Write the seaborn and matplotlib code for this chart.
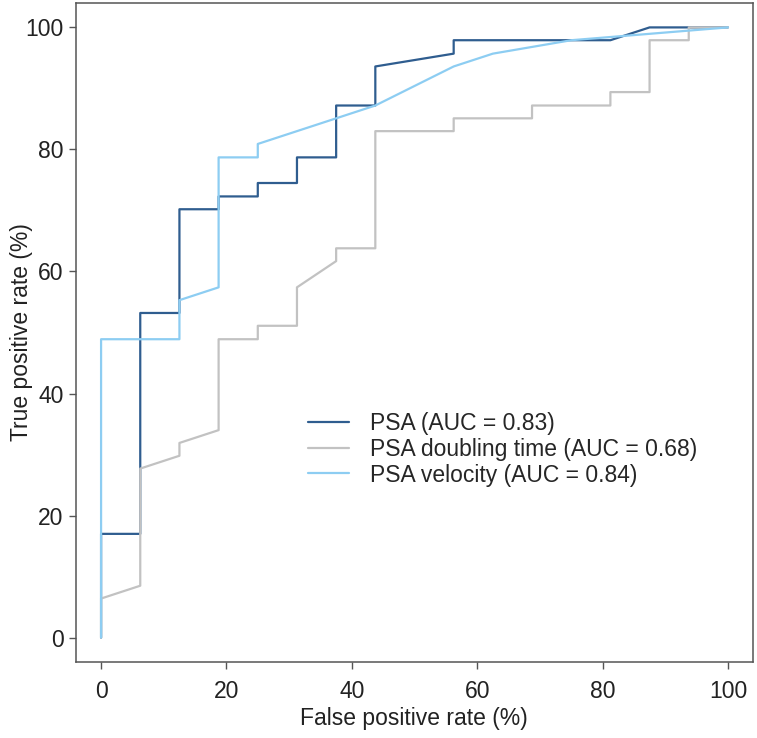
import matplotlib
matplotlib.use("Agg")
import matplotlib.pyplot as plt
import seaborn as sns
import pandas as pd

# ROC curves (percent)
psa_fpr = [0, 0, 6.25, 6.25, 12.5, 12.5, 18.75, 18.75, 25, 25, 31.25, 31.25,
           37.5, 37.5, 43.75, 43.75, 56.25, 56.25, 81.25, 87.5, 93.75, 100]
psa_tpr = [0, 17.0, 17.0, 53.2, 53.2, 70.2, 70.2, 72.3, 72.3, 74.5, 74.5, 78.7,
           78.7, 87.2, 87.2, 93.6, 95.7, 97.9, 97.9, 100, 100, 100]

dt_fpr = [0, 0, 6.25, 6.25, 12.5, 12.5, 18.75, 18.75, 25, 25, 31.25, 31.25,
          37.5, 37.5, 43.75, 43.75, 56.25, 56.25, 68.75, 68.75, 81.25, 81.25,
          87.5, 87.5, 93.75, 93.75, 100]
dt_tpr = [0, 6.4, 8.5, 27.7, 29.8, 31.9, 34.0, 48.9, 48.9, 51.1, 51.1, 57.4,
          61.7, 63.8, 63.8, 83.0, 83.0, 85.1, 85.1, 87.2, 87.2, 89.4,
          89.4, 97.9, 97.9, 100, 100]

vel_fpr = [0, 0, 12.5, 12.5, 18.75, 18.75, 25, 25, 37.5, 43.75, 56.25, 62.5, 75, 100]
vel_tpr = [0, 48.9, 48.9, 55.3, 57.4, 78.7, 78.7, 80.9, 85.1, 87.2, 93.6, 95.7, 97.9, 100]

labels = ["PSA (AUC = 0.83)", "PSA doubling time (AUC = 0.68)", "PSA velocity (AUC = 0.84)"]
colors = ["#2F5D8F", "#C2C2C2", "#8DCDF2"]

frames = []
for lab, xs, ys in zip(labels, [psa_fpr, dt_fpr, vel_fpr], [psa_tpr, dt_tpr, vel_tpr]):
    frames.append(pd.DataFrame({"fpr": xs, "tpr": ys, "marker": lab}))
df = pd.concat(frames, ignore_index=True)

sns.set_style("ticks")
plt.rcParams["font.family"] = ["Liberation Sans", "DejaVu Sans"]

fig = plt.figure(figsize=(7.57, 7.38), dpi=100)
ax = fig.add_axes([76 / 757, 1 - 662 / 738, 677 / 757, 659 / 738])

sns.lineplot(data=df, x="fpr", y="tpr", hue="marker", palette=dict(zip(labels, colors)),
             sort=False, estimator=None, linewidth=1.6, ax=ax, legend=False)

ax.set_xlim(-4, 104)
ax.set_ylim(-4, 104)
ax.set_xticks([0, 20, 40, 60, 80, 100])
ax.set_yticks([0, 20, 40, 60, 80, 100])
ax.tick_params(axis="both", labelsize=16.5, length=5, width=1, color="#555555",
               labelcolor="#222222", pad=4)
ax.tick_params(axis="x", pad=8)
for sp in ax.spines.values():
    sp.set_color("#555555")
    sp.set_linewidth(1.1)

ax.set_xlabel("False positive rate (%)", fontsize=16.5, color="#222222")
ax.set_ylabel("True positive rate (%)", fontsize=16.5, color="#222222")
ax.xaxis.set_label_coords(414 / 757, 1 - 718 / 738, transform=fig.transFigure)
ax.yaxis.set_label_coords(22 / 757, 1 - 332 / 738, transform=fig.transFigure)
ax.xaxis.label.set_verticalalignment("center")
ax.yaxis.label.set_verticalalignment("center")

handles = [plt.Line2D([0], [0], color=c, lw=1.6) for c in colors]
ax.legend(handles, labels, loc="upper left", bbox_to_anchor=(308 / 757, 1 - 412 / 738),
          bbox_transform=fig.transFigure, frameon=False, fontsize=16.5, borderpad=0,
          borderaxespad=0, handlelength=1.8, handletextpad=0.9, labelspacing=0.12)

fig.savefig("out.png", dpi=100)
